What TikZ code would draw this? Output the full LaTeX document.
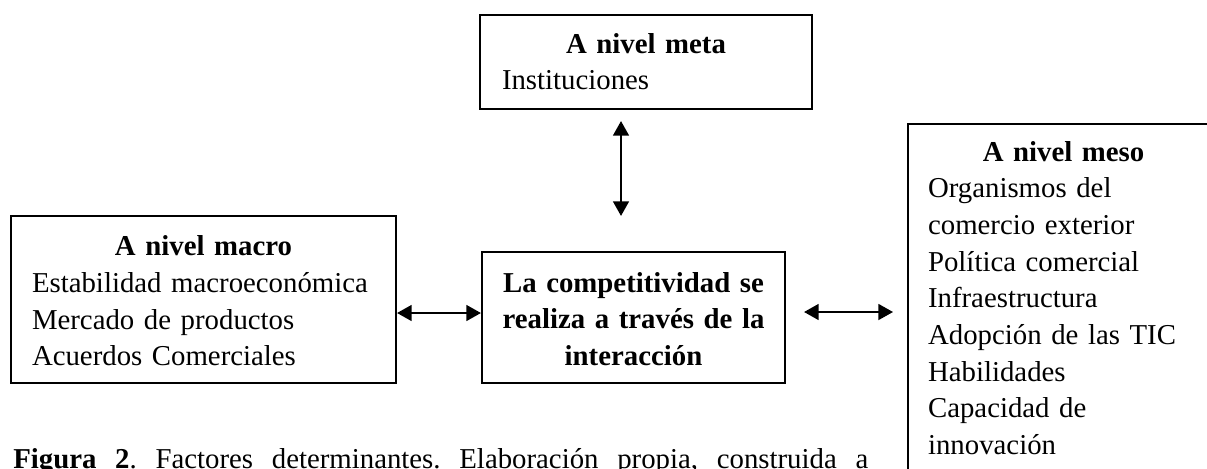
\documentclass[tikz,border=0pt]{standalone}
\usepackage{fontspec}
\setmainfont{Liberation Serif}
\usetikzlibrary{arrows.meta,calc}
\newcommand{\lvlfont}{\fontsize{21.6}{27.5}\selectfont\parindent0pt}
\newcommand{\lvltop}[1][0pt]{\rule{0pt}{\dimexpr19.25pt+#1\relax}}
\newcommand{\lvlhead}[2][0pt]{\noindent\hbox to\hsize{\hss\bfseries\strut\lvltop[#1]#2\hss}}
\begin{document}
\begin{tikzpicture}[
  x=0.75pt, y=-0.75pt,
  lvlbox/.style = {draw, line width=1.6pt, rectangle, align=left, font=\lvlfont, inner ysep=0pt},
  midbox/.style = {draw, line width=1.6pt, rectangle, align=center, font=\lvlfont\bfseries, inner ysep=0pt},
  biarrow/.style = {{Triangle[length=11pt,width=12pt]}-{Triangle[length=11pt,width=12pt]}, line width=1.3pt},
  caplbl/.style = {font=\lvlfont\frenchspacing, inner sep=0pt}
]
  \useasboundingbox (0,0) rectangle (1207,468);
  % nivel meta
  \node[lvlbox, text width=216pt, inner xsep=16.5pt, minimum height=70.5pt] (meta) at (646,62)
    {\lvlhead[3pt]{A nivel meta}\\ Instituciones\strut};
  % nivel macro
  \node[lvlbox, text width=257.25pt, inner xsep=15.75pt, minimum height=125.25pt] (macro) at (203.5,299.5)
    {\lvlhead[6pt]{A nivel macro}\\ Estabilidad macroeconómica\\ Mercado de productos\\ Acuerdos Comerciales\strut};
  % competitividad
  \node[midbox, text width=211.25pt, inner xsep=8pt, minimum height=98.25pt] (mid) at (633.5,317.5)
    {\lvltop[6pt]La competitividad se\\ realiza a través de la\\ interacción\strut};
  % nivel meso
  \node[lvlbox, text width=203.25pt, inner xsep=15pt, inner ysep=8.5pt, anchor=north west] (meso) at (907,123)
    {\lvlhead{A nivel meso}\\ Organismos del\\ comercio exterior\\ Política comercial\\ Infraestructura\\
     Adopción de las TIC\\ Habilidades\\ Capacidad de\\ innovación\strut};
  % flechas
  \draw[biarrow, shorten <=8.25pt, shorten >=26.25pt] ($(meta.south)+(-25,0)$) -- ($(mid.north)+(-12.5,0)$);
  \path ($(mid.west)+(0,-4.5)$) coordinate (lw);
  \draw[biarrow] (macro.east |- lw) -- (lw);
  \path ($(mid.east)+(0,-5.5)$) coordinate (rw);
  \draw[biarrow, shorten <=13.5pt, shorten >=10.5pt] (rw) -- (meso.west |- rw);
  % pie de figura (linea justificada)
  \node[caplbl, anchor=base west] (cap) at (13,468)
    {\hbox to 641.25pt{\textbf{Figura 2}. Factores determinantes. Elaboración propia, construida a}};
\end{tikzpicture}
\end{document}
